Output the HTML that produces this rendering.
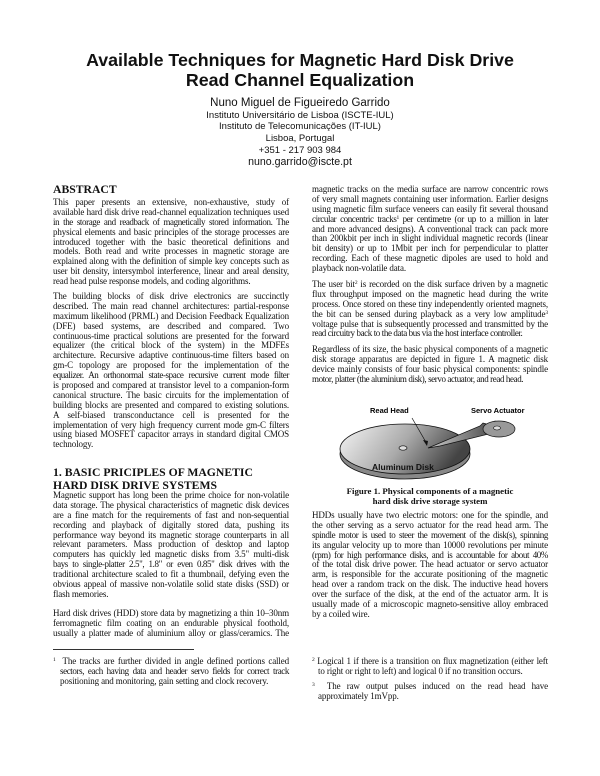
<!DOCTYPE html>
<html><head><meta charset="utf-8">
<style>
body{margin:0;background:#fff;width:600px;height:776px;position:relative;overflow:hidden;color:#111}
.c{position:absolute;left:0;width:600px;text-align:center;font-family:"Liberation Sans",sans-serif;white-space:nowrap}
.p{position:absolute;width:236px;font-family:"Liberation Serif",serif;font-size:9px;line-height:9.9px;letter-spacing:-0.14px}
.p div{text-align:justify;text-align-last:justify;white-space:normal;height:9.9px}
.p div.l{text-align-last:left}
.p div.t{letter-spacing:-0.4px}
.h{position:absolute;font-family:"Liberation Serif",serif;font-weight:bold;font-size:11.7px;line-height:13px;white-space:nowrap}
.cap{position:absolute;left:312px;width:236px;text-align:center;font-family:"Liberation Serif",serif;font-weight:bold;font-size:8.8px;line-height:9.9px}
sup{font-size:5.5px;vertical-align:3px;line-height:0}
</style></head><body>
<div class="c" style="top:50px;font-size:17.8px;font-weight:bold;line-height:20px">Available Techniques for Magnetic Hard Disk Drive</div>
<div class="c" style="top:70px;font-size:17.8px;font-weight:bold;line-height:20px">Read Channel Equalization</div>
<div class="c" style="top:97px;font-size:11.5px;line-height:13px">Nuno Miguel de Figueiredo Garrido</div>
<div class="c" style="top:110px;font-size:9.5px;line-height:12px">Instituto Universitário de Lisboa (ISCTE-IUL)</div>
<div class="c" style="top:121px;font-size:9.5px;line-height:12px">Instituto de Telecomunicações (IT-IUL)</div>
<div class="c" style="top:133px;font-size:9.5px;line-height:12px">Lisboa, Portugal</div>
<div class="c" style="top:145px;font-size:9.5px;line-height:12px">+351 - 217 903 984</div>
<div class="c" style="top:156px;font-size:10.6px;line-height:13px">nuno.garrido@iscte.pt</div>

<div class="h" style="left:53px;top:183px">ABSTRACT</div>
<div class="p" style="left:53px;top:198px">
<div>This paper presents an extensive, non-exhaustive, study of</div>
<div>available hard disk drive read-channel equalization techniques used</div>
<div class="t">in the storage and readback of magnetically stored information. The</div>
<div>physical elements and basic principles of the storage processes are</div>
<div>introduced together with the basic theoretical definitions and</div>
<div>models. Both read and write processes in magnetic storage are</div>
<div>explained along with the definition of simple key concepts such as</div>
<div>user bit density, intersymbol interference, linear and areal density,</div>
<div class="l">read head pulse response models, and coding algorithms.</div>
</div>
<div class="p" style="left:53px;top:292px">
<div>The building blocks of disk drive electronics are succinctly</div>
<div>described. The main read channel architectures: partial-response</div>
<div>maximum likelihood (PRML) and Decision Feedback Equalization</div>
<div>(DFE) based systems, are described and compared. Two</div>
<div>continuous-time practical solutions are presented for the forward</div>
<div>equalizer (the critical block of the system) in the MDFEs</div>
<div>architecture. Recursive adaptive continuous-time filters based on</div>
<div>gm-C topology are proposed for the implementation of the</div>
<div class="t">equalizer. An orthonormal state-space recursive current mode filter</div>
<div>is proposed and compared at transistor level to a companion-form</div>
<div>canonical structure. The basic circuits for the implementation of</div>
<div>building blocks are presented and compared to existing solutions.</div>
<div>A self-biased transconductance cell is presented for the</div>
<div>implementation of very high frequency current mode gm-C filters</div>
<div>using biased MOSFET capacitor arrays in standard digital CMOS</div>
<div class="l">technology.</div>
</div>
<div class="h" style="left:53px;top:466px">1. BASIC PRICIPLES OF MAGNETIC</div>
<div class="h" style="left:53px;top:479px">HARD DISK DRIVE SYSTEMS</div>
<div class="p" style="left:53px;top:491px">
<div>Magnetic support has long been the prime choice for non-volatile</div>
<div>data storage. The physical characteristics of magnetic disk devices</div>
<div>are a fine match for the requirements of fast and non-sequential</div>
<div>recording and playback of digitally stored data, pushing its</div>
<div>performance way beyond its magnetic storage counterparts in all</div>
<div>relevant parameters. Mass production of desktop and laptop</div>
<div>computers has quickly led magnetic disks from 3.5" multi-disk</div>
<div class="t">bays to single-platter 2.5", 1.8" or even 0.85" disk drives with the</div>
<div>traditional architecture scaled to fit a thumbnail, defying even the</div>
<div>obvious appeal of massive non-volatile solid state disks (SSD) or</div>
<div class="l">flash memories.</div>
</div>
<div class="p" style="left:53px;top:609px">
<div>Hard disk drives (HDD) store data by magnetizing a thin 10–30nm</div>
<div>ferromagnetic film coating on an endurable physical foothold,</div>
<div>usually a platter made of aluminium alloy or glass/ceramics. The</div>
</div>
<div style="position:absolute;left:53px;top:649px;width:141px;height:0;border-top:0.8px solid #333"></div>
<div class="p" style="left:53px;top:657px">
<div><sup>1</sup>&nbsp; The tracks are further divided in angle defined portions called</div>
<div class="t" style="margin-left:7px">sectors, each having data and header servo fields for correct track</div>
<div class="l" style="margin-left:7px">positioning and monitoring, gain setting and clock recovery.</div>
</div>

<div class="p" style="left:312px;top:185px">
<div>magnetic tracks on the media surface are narrow concentric rows</div>
<div>of very small magnets containing user information. Earlier designs</div>
<div>using magnetic film surface veneers can easily fit several thousand</div>
<div class="t">circular concentric tracks<sup>1</sup> per centimetre (or up to a million in later</div>
<div>and more advanced designs). A conventional track can pack more</div>
<div>than 200kbit per inch in slight individual magnetic records (linear</div>
<div>bit density) or up to 1Mbit per inch for perpendicular to platter</div>
<div>recording. Each of these magnetic dipoles are used to hold and</div>
<div class="l">playback non-volatile data.</div>
</div>
<div class="p" style="left:312px;top:280px">
<div>The user bit<sup>2</sup> is recorded on the disk surface driven by a magnetic</div>
<div>flux throughput imposed on the magnetic head during the write</div>
<div>process. Once stored on these tiny independently oriented magnets,</div>
<div>the bit can be sensed during playback as a very low amplitude<sup>3</sup></div>
<div>voltage pulse that is subsequently processed and transmitted by the</div>
<div class="l t">read circuitry back to the data bus via the host interface controller.</div>
</div>
<div class="p" style="left:312px;top:345px">
<div>Regardless of its size, the basic physical components of a magnetic</div>
<div>disk storage apparatus are depicted in figure 1. A magnetic disk</div>
<div>device mainly consists of four basic physical components: spindle</div>
<div class="l t">motor, platter (the aluminium disk), servo actuator, and read head.</div>
</div>

<svg style="position:absolute;left:0;top:0" width="600" height="776">
<defs>
<linearGradient id="g" x1="0" y1="0" x2="1" y2="0.3"><stop offset="0" stop-color="#f6f6f6"/><stop offset="0.55" stop-color="#aaa"/><stop offset="1" stop-color="#444"/></linearGradient>
<linearGradient id="a" x1="0" y1="0" x2="1" y2="0"><stop offset="0" stop-color="#ccc"/><stop offset="1" stop-color="#333"/></linearGradient>
</defs>
<ellipse cx="405" cy="454" rx="65" ry="25" fill="#888" stroke="#111" stroke-width="0.8"/>
<ellipse cx="405" cy="449" rx="65" ry="25" fill="url(#g)" stroke="#111" stroke-width="0.8"/>
<ellipse cx="403" cy="448" rx="4" ry="2.2" fill="#ddd" stroke="#111" stroke-width="0.7"/>
<polygon points="428,448 480,426 483,423 490,425 495,421 505,430 440,446" fill="url(#a)" stroke="#111" stroke-width="0.7"/>
<ellipse cx="499" cy="429" rx="16" ry="8" fill="#999" stroke="#111" stroke-width="0.7"/>
<ellipse cx="497" cy="428" rx="3.5" ry="2" fill="#ddd" stroke="#111" stroke-width="0.6"/>
<line x1="412" y1="418" x2="427" y2="444" stroke="#111" stroke-width="0.7"/>
<polygon points="427,446 423,440 428,441" fill="#111"/>
<text x="370" y="413" font-family="Liberation Sans" font-weight="bold" font-size="7.5">Read Head</text>
<text x="471" y="413" font-family="Liberation Sans" font-weight="bold" font-size="7.5">Servo Actuator</text>
<text x="372" y="470" font-family="Liberation Sans" font-weight="bold" font-size="8.5" fill="#111">Aluminum Disk</text>
</svg>
<div class="cap" style="top:487px">Figure 1. Physical components of a magnetic<br>hard disk drive storage system</div>

<div class="p" style="left:312px;top:511px">
<div>HDDs usually have two electric motors: one for the spindle, and</div>
<div>the other serving as a servo actuator for the read head arm. The</div>
<div class="t">spindle motor is used to steer the movement of the disk(s), spinning</div>
<div>its angular velocity up to more than 10000 revolutions per minute</div>
<div class="t">(rpm) for high performance disks, and is accountable for about 40%</div>
<div>of the total disk drive power. The head actuator or servo actuator</div>
<div>arm, is responsible for the accurate positioning of the magnetic</div>
<div>head over a random track on the disk. The inductive head hovers</div>
<div>over the surface of the disk, at the end of the actuator arm. It is</div>
<div>usually made of a microscopic magneto-sensitive alloy embraced</div>
<div class="l">by a coiled wire.</div>
</div>
<div class="p" style="left:312px;top:657px">
<div><sup>2</sup> Logical 1 if there is a transition on flux magnetization (either left</div>
<div class="l" style="margin-left:6px">to right or right to left) and logical 0 if no transition occurs.</div>
</div>
<div class="p" style="left:312px;top:682px">
<div><sup>3</sup>&nbsp; The raw output pulses induced on the read head have</div>
<div class="l" style="margin-left:6px">approximately 1mVpp.</div>
</div>
</body></html>
